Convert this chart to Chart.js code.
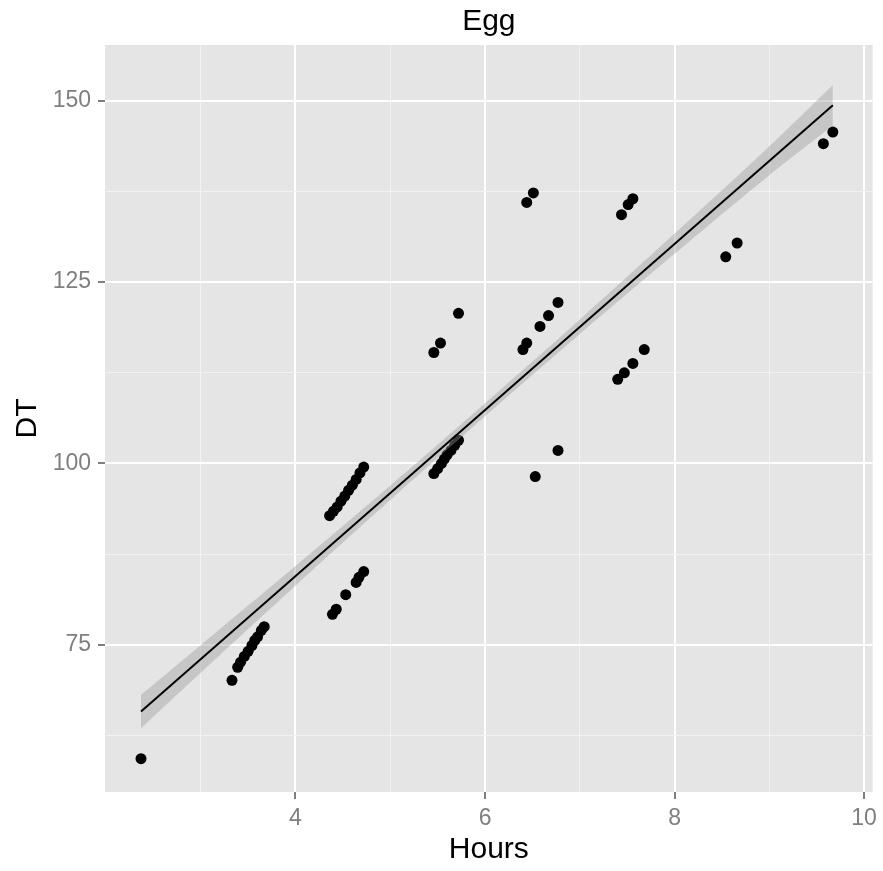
<!DOCTYPE html>
<html>
<head>
<meta charset="utf-8">
<title>Egg</title>
<script src="https://cdn.jsdelivr.net/npm/chart.js@4.4.1/dist/chart.umd.min.js"></script>
<style>
  html, body { margin: 0; padding: 0; background: #fff; }
  #wrap { width: 883px; height: 871px; }
</style>
</head>
<body>
<div id="wrap"><canvas id="egg"></canvas></div>
<script>
// data
const hours = [
    2.37, 3.33,
    3.39, 3.42, 3.46, 3.50, 3.54, 3.57, 3.60, 3.64, 3.67,
    4.39, 4.43, 4.53, 4.64, 4.67, 4.72,
    4.36, 4.40, 4.44, 4.48, 4.52, 4.56, 4.60, 4.64, 4.68, 4.72,
    5.46, 5.50, 5.54, 5.57, 5.60, 5.64, 5.68, 5.72,
    5.46, 5.53, 5.72,
    6.53, 6.77,
    6.40, 6.44, 6.58, 6.67, 6.77,
    6.44, 6.51,
    7.44, 7.51, 7.56,
    7.40, 7.47, 7.56, 7.68,
    8.54, 8.66,
    9.57, 9.67
];
const dt = [
    59.3, 70.1,
    71.9, 72.6, 73.4, 74.1, 74.9, 75.6, 76.1, 77.0, 77.5,
    79.2, 79.9, 81.9, 83.6, 84.3, 85.1,
    92.8, 93.4, 94.0, 94.8, 95.5, 96.3, 97.0, 97.8, 98.7, 99.5,
    98.6, 99.3, 100.0, 100.6, 101.2, 101.8, 102.5, 103.2,
    115.3, 116.6, 120.7,
    98.2, 101.8,
    115.7, 116.6, 118.9, 120.4, 122.2,
    136.0, 137.3,
    134.3, 135.7, 136.5,
    111.6, 112.5, 113.8, 115.7,
    128.5, 130.4,
    144.1, 145.7
];

// fitted line and its confidence band
const fitHours = [2.37, 9.67];
const fitDT = [65.8, 149.4];
const bandHours = [2.37, 3, 4, 5, 6, 7, 8, 9, 9.67];
const bandUpper = [68.1, 74.95, 85.85, 96.95, 108.3, 119.85, 131.7, 143.75, 152.2];
const bandLower = [63.5, 71.15, 83.15, 94.95, 106.5, 117.85, 128.9, 139.75, 146.6];

// axis breaks
const xTicks = [4, 6, 8, 10];
const xMinor = [3, 5, 7, 9];
const yTicks = [75, 100, 125, 150];
const yMinor = [62.5, 87.5, 112.5, 137.5];

const chartTitle = 'Egg';

Chart.defaults.font.family = '"Liberation Sans", Arial, sans-serif';
Chart.defaults.color = '#7F7F7F';

const toXY = (xs, ys) => xs.map((x, i) => ({ x: x, y: ys[i] }));

// grey ggplot panel + title centred over the panel
const panelBg = {
    id: 'panelBg',
    beforeDraw(chart) {
        const a = chart.chartArea;
        const ctx = chart.ctx;
        ctx.save();
        ctx.fillStyle = '#E5E5E5';
        ctx.fillRect(a.left, a.top, a.right - a.left, a.bottom - a.top);
        ctx.restore();
    },
    afterDraw(chart) {
        const a = chart.chartArea;
        const ctx = chart.ctx;
        ctx.save();
        ctx.fillStyle = '#000000';
        ctx.font = '30px "Liberation Sans", Arial, sans-serif';
        ctx.textAlign = 'center';
        ctx.textBaseline = 'middle';
        ctx.fillText(chartTitle, (a.left + a.right) / 2, 22);
        ctx.restore();
    }
};

function breaksFor(major, minor) {
    return function(scale) {
        scale.ticks = major.concat(minor).sort((a, b) => a - b).map(v => ({ value: v }));
    };
}

function gridOpts(major) {
    return {
        drawOnChartArea: true,
        color: c => major.includes(c.tick.value) ? '#FFFFFF' : '#F2F2F2',
        lineWidth: c => major.includes(c.tick.value) ? 2 : 1,
        tickColor: c => major.includes(c.tick.value) ? '#7F7F7F' : 'rgba(0,0,0,0)',
        tickLength: 7,
        tickWidth: 2
    };
}

const ctx = document.getElementById('egg').getContext('2d');
new Chart(ctx, {
    type: 'line',
    data: {
        datasets: [
            {
                label: 'fit',
                data: toXY(fitHours, fitDT),
                borderColor: '#000000',
                borderWidth: 2,
                pointRadius: 0,
                fill: false
            },
            {
                label: 'upper',
                data: toXY(bandHours, bandUpper),
                borderWidth: 0,
                borderColor: 'rgba(0,0,0,0)',
                backgroundColor: 'rgba(153,153,153,0.4)',
                pointRadius: 0,
                tension: 0.4,
                fill: '+1'
            },
            {
                label: 'lower',
                data: toXY(bandHours, bandLower),
                borderWidth: 0,
                borderColor: 'rgba(0,0,0,0)',
                pointRadius: 0,
                tension: 0.4,
                fill: false
            },
            {
                label: 'DT',
                data: toXY(hours, dt),
                showLine: false,
                pointRadius: 5.5,
                pointBackgroundColor: '#000000',
                pointBorderColor: '#000000',
                pointBorderWidth: 0
            }
        ]
    },
    options: {
        responsive: true,
        maintainAspectRatio: false,
        animation: false,
        layout: {
            padding: { top: 45, right: 8, bottom: 0, left: 0 }
        },
        plugins: {
            legend: { display: false },
            tooltip: { enabled: false },
            title: { display: false }
        },
        scales: {
            x: {
                type: 'linear',
                min: 1.99,
                max: 10.09,
                afterBuildTicks: breaksFor(xTicks, xMinor),
                afterFit: s => { s.height = 79; },
                border: { display: false },
                grid: gridOpts(xTicks),
                ticks: {
                    autoSkip: false,
                    maxRotation: 0,
                    padding: 6,
                    color: '#7F7F7F',
                    font: { size: 23 },
                    callback: v => xTicks.includes(v) ? String(v) : ''
                },
                title: {
                    display: true,
                    text: 'Hours',
                    color: '#000000',
                    font: { size: 30 },
                    padding: { top: 0, bottom: 3 }
                }
            },
            y: {
                type: 'linear',
                min: 54.7,
                max: 157.7,
                afterBuildTicks: breaksFor(yTicks, yMinor),
                afterFit: s => { s.width = 105; },
                border: { display: false },
                grid: gridOpts(yTicks),
                ticks: {
                    autoSkip: false,
                    padding: 7,
                    color: '#7F7F7F',
                    font: { size: 23 },
                    callback: v => yTicks.includes(v) ? String(v) : ''
                },
                title: {
                    display: true,
                    text: 'DT',
                    color: '#000000',
                    font: { size: 30 },
                    padding: { top: 10, bottom: 0 }
                }
            }
        }
    },
    plugins: [panelBg]
});
</script>
</body>
</html>
